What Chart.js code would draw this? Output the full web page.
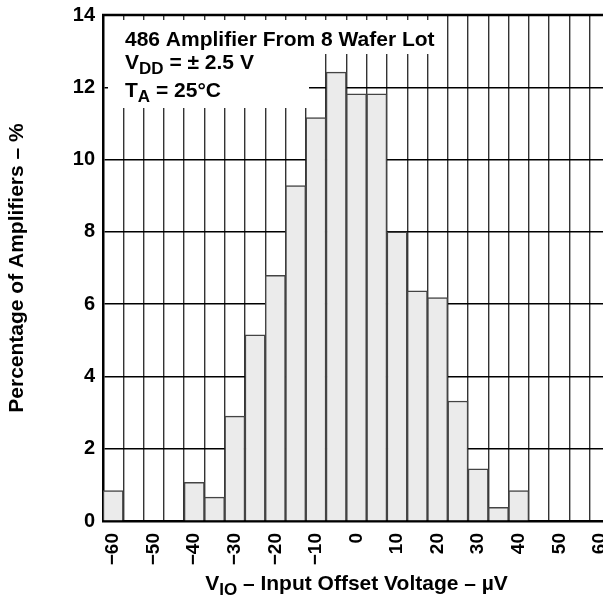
<!DOCTYPE html>
<html><head><meta charset="utf-8">
<script src="https://cdn.jsdelivr.net/npm/chart.js@4"></script>
<style>
html,body{margin:0;padding:0;background:#fff;overflow:hidden;}
#wrap{width:612px;height:597px;position:relative;}
</style></head><body>
<div id="wrap"><canvas id="c"></canvas></div>
<script>
// Histogram bins (µV, bin centres) and percentage of amplifiers
const binCenters = [-60,-55,-50,-45,-40,-35,-30,-25,-20,-15,-10,-5,0,5,10,15,20,25,30,35,40,45,50,55,60];
const percentages = [0.84,0,0,0,1.07,0.66,2.9,5.15,6.8,9.28,11.16,12.42,11.82,11.82,8.0,6.37,6.18,3.32,1.44,0.38,0.84,0,0,0,0];
const xTickLabels = ['−60','−50','−40','−30','−20','−10','0','10','20','30','40','50','60'];
const yTickStep = 2;
const yMin = 0, yMax = 14;
const yTitle = 'Percentage of Amplifiers – %';
const FONT = '"Liberation Sans", Arial, Helvetica, sans-serif';

const overlay = {
  id: 'overlay',
  afterDraw(chart) {
    const ctx = chart.ctx, ca = chart.chartArea;
    ctx.save();
    // white legend box covering grid
    ctx.fillStyle = '#fff';
    ctx.fillRect(ca.left + 5, ca.top + 5, 336, 34);
    ctx.fillRect(ca.left + 5, ca.top + 5, 201, 88);
    // top frame
    ctx.strokeStyle = '#000'; ctx.lineWidth = 2.5;
    ctx.beginPath(); ctx.moveTo(ca.left - 1, ca.top); ctx.lineTo(ca.right + 2, ca.top); ctx.stroke();

    ctx.fillStyle = '#000';
    ctx.textAlign = 'left'; ctx.textBaseline = 'alphabetic';
    const big = 'bold 21px ' + FONT, small = 'bold 17px ' + FONT;
    function seg(parts, x, y) {
      for (const p of parts) {
        ctx.font = p.sub ? small : big;
        ctx.fillText(p.t, x, y + (p.sub ? 5 : 0));
        x += ctx.measureText(p.t).width;
      }
    }
    function width(parts) {
      let w = 0;
      for (const p of parts) { ctx.font = p.sub ? small : big; w += ctx.measureText(p.t).width; }
      return w;
    }
    const x0 = ca.left + 22;
    seg([{t:'486 Amplifier From 8 Wafer Lot'}], x0, ca.top + 31);
    seg([{t:'V'},{t:'DD',sub:true},{t:' = ± 2.5 V'}], x0, ca.top + 54);
    seg([{t:'T'},{t:'A',sub:true},{t:' = 25°C'}], x0, ca.top + 82);

    // x-axis title
    const xt = [{t:'V'},{t:'IO',sub:true},{t:' – Input Offset Voltage – µV'}];
    const w = width(xt);
    seg(xt, (ca.left + ca.right) / 2 - w / 2, 590);
    ctx.restore();
  }
};

new Chart(document.getElementById('c'), {
  type: 'bar',
  data: {
    labels: binCenters,
    datasets: [{
      data: percentages,
      backgroundColor: '#ebebeb',
      borderColor: '#444',
      borderWidth: 1.5,
      barPercentage: 1,
      categoryPercentage: 1
    }]
  },
  options: {
    responsive: true,
    maintainAspectRatio: false,
    animation: false,
    layout: { padding: { top: 15, right: 2, left: 0, bottom: 0 } },
    plugins: { legend: { display: false }, tooltip: { enabled: false } },
    scales: {
      x: {
        type: 'category',
        offset: true,
        z: 1,
        grid: { offset: true, color: '#333', lineWidth: 1.4, drawTicks: false },
        border: { color: '#000', width: 2.5 },
        ticks: {
          autoSkip: false, minRotation: 90, maxRotation: 90, padding: 12,
          color: '#000', font: { family: FONT, size: 19, weight: 'bold' },
          callback: (v, i) => (binCenters[i] % 10 === 0 ? xTickLabels[i / 2] : '')
        },
        afterFit(s) { s.height = 76; s.paddingLeft = 0; s.paddingRight = 0; }
      },
      y: {
        min: yMin, max: yMax, z: 1,
        grid: { color: '#000', lineWidth: 1.4, drawTicks: false },
        border: { color: '#000', width: 2.5 },
        ticks: { stepSize: yTickStep, padding: 8, color: '#000', font: { family: FONT, size: 20, weight: 'bold' } },
        title: { display: true, text: yTitle, color: '#000', font: { family: FONT, size: 21, weight: 'bold' }, padding: { top: 5, bottom: 0 } },
        afterFit(s) { s.width = 103; s.paddingTop = 0; s.paddingBottom = 0; }
      }
    }
  },
  plugins: [overlay]
});
</script>
</body></html>
